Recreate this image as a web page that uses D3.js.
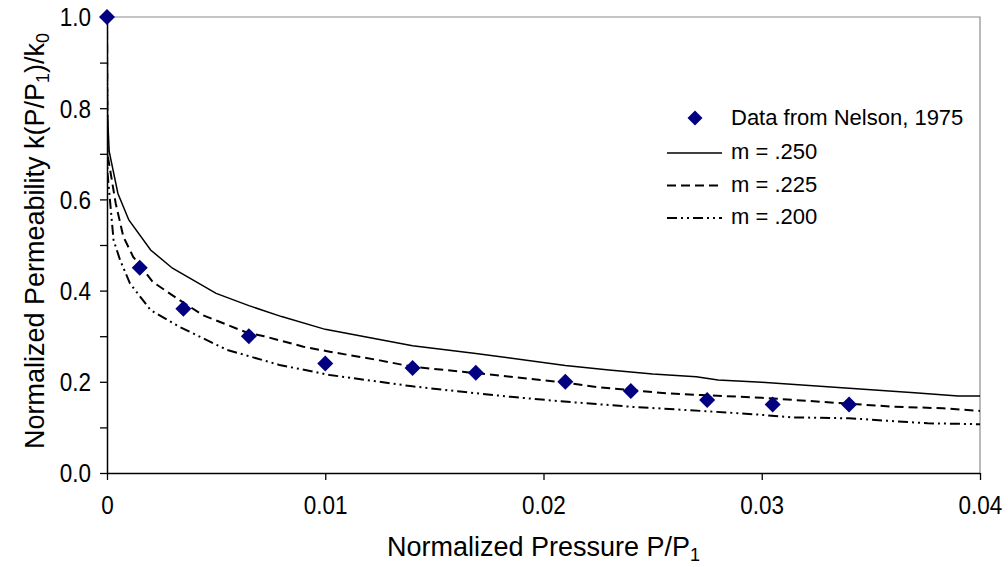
<!DOCTYPE html>
<html><head><meta charset="utf-8">
<script src="https://cdn.jsdelivr.net/npm/d3@7"></script>
<style>
html,body{margin:0;padding:0;background:#fff;}
svg{display:block;font-family:"Liberation Sans",Arial,sans-serif;}
</style></head>
<body>
<svg id="chart" width="1008" height="567"></svg>
<script>
// Measured data (Nelson, 1975)
const dataX = [0, 0.0015, 0.0035, 0.0065, 0.01, 0.014, 0.0169, 0.021, 0.024, 0.0275, 0.0305, 0.034];
const dataY = [1.0, 0.45, 0.36, 0.30, 0.24, 0.23, 0.22, 0.20, 0.18, 0.16, 0.15, 0.15];

// Model curves
const m250X = [0, 0.00002, 0.0001, 0.0005, 0.001, 0.002, 0.003, 0.005, 0.0065, 0.008, 0.01, 0.014, 0.0169, 0.021, 0.023, 0.025, 0.027, 0.028, 0.03, 0.037, 0.039, 0.04];
const m250Y = [1.0, 0.79, 0.705, 0.613, 0.555, 0.489, 0.449, 0.394, 0.367, 0.343, 0.315, 0.279, 0.262, 0.236, 0.226, 0.217, 0.211, 0.204, 0.199, 0.176, 0.169, 0.169];

const m225X = [0, 0.00002, 0.0004, 0.00075, 0.0012, 0.0021, 0.0032, 0.0044, 0.0064, 0.0072, 0.009, 0.0102, 0.0125, 0.014, 0.0163, 0.0185, 0.021, 0.0225, 0.0256, 0.0272, 0.03, 0.036, 0.0383, 0.04];
const m225Y = [1.0, 0.70, 0.591, 0.518, 0.474, 0.419, 0.383, 0.346, 0.308, 0.30, 0.277, 0.266, 0.247, 0.233, 0.222, 0.211, 0.198, 0.188, 0.175, 0.171, 0.165, 0.1455, 0.142, 0.136];

const m200X = [0, 0.00002, 0.0003, 0.0006, 0.00105, 0.002, 0.0033, 0.0055, 0.0079, 0.0102, 0.014, 0.0163, 0.0185, 0.0211, 0.0241, 0.0266, 0.0296, 0.0314, 0.034, 0.0376, 0.04];
const m200Y = [1.0, 0.66, 0.511, 0.467, 0.416, 0.357, 0.321, 0.27, 0.237, 0.215, 0.19, 0.178, 0.167, 0.156, 0.145, 0.138, 0.129, 0.122, 0.12, 0.109, 0.107];

const xTicks = [0, 0.01, 0.02, 0.03, 0.04];
const xTickLabels = ["0", "0.01", "0.02", "0.03", "0.04"];
const yTicks = [0, 0.1, 0.2, 0.3, 0.4, 0.5, 0.6, 0.7, 0.8, 0.9, 1.0];
const yTickLabels = ["0.0", "", "0.2", "", "0.4", "", "0.6", "", "0.8", "", "1.0"];

const seriesNames = ["Data from Nelson, 1975", "m = .250", "m = .225", "m = .200"];

const svg = d3.select("#chart");
const L = 107, R = 980, T = 17, B = 473;
const x = d3.scaleLinear().domain([0, 0.04]).range([L, R]);
const y = d3.scaleLinear().domain([0, 1]).range([B, T]);

// plot border (top/right gray)
svg.append("path")
  .attr("d", `M${L},${T}H${R}V${B}`)
  .attr("fill", "none").attr("stroke", "#8c8c8c").attr("stroke-width", 1.2);

// axes
const xAxis = d3.axisBottom(x).tickValues(xTicks).tickSize(7).tickFormat((d, i) => xTickLabels[i]);
const gx = svg.append("g").attr("transform", `translate(0,${B})`).call(xAxis);
const yAxis = d3.axisLeft(y).tickValues(yTicks).tickSize(7).tickFormat((d, i) => yTickLabels[i]);
const gy = svg.append("g").attr("transform", `translate(${L},0)`).call(yAxis);

const sy = 1.14;
[gx, gy].forEach(g => {
  g.select(".domain").attr("stroke", "#000").attr("stroke-width", 1.5);
  g.selectAll(".tick line").attr("stroke", "#000").attr("stroke-width", 1.3);
  g.selectAll(".tick text").attr("fill", "#000").attr("font-size", 22.5)
    .attr("font-family", '"Liberation Sans",Arial,sans-serif')
    .attr("transform", `scale(1,${sy})`);
});
gx.select(".domain").attr("d", `M${L},0.5H${R}`);
gy.select(".domain").attr("d", `M0.5,${B}V${T}`);
gx.selectAll(".tick text").attr("dy", null).attr("y", 41 / sy);
gy.selectAll(".tick text").attr("x", -16).attr("dy", "0.35em");

// lines
const line = d3.line().x(d => x(d[0])).y(d => y(d[1]));
const curves = [
  {xs: m250X, ys: m250Y, dash: null, w: 1.5},
  {xs: m225X, ys: m225Y, dash: "9,5", w: 2},
  {xs: m200X, ys: m200Y, dash: "10,4,2,4,2,4", w: 2}
];
svg.append("clipPath").attr("id", "clip").append("rect")
  .attr("x", L).attr("y", T - 2).attr("width", R - L).attr("height", B - T + 2);
curves.forEach(c => {
  svg.append("path")
    .datum(c.xs.map((v, i) => [v, c.ys[i]]))
    .attr("d", line)
    .attr("fill", "none").attr("stroke", "#000")
    .attr("stroke-width", c.w)
    .attr("stroke-dasharray", c.dash)
    .attr("clip-path", "url(#clip)");
});

// diamonds
const dia = s => `M0,${-s}L${s},0L0,${s}L${-s},0Z`;
svg.append("g").selectAll("path").data(dataX.map((v, i) => [v, dataY[i]])).join("path")
  .attr("d", dia(8))
  .attr("transform", d => `translate(${x(d[0])},${y(d[1])})`)
  .attr("fill", "#000080");

// legend
const lg = svg.append("g");
const lx0 = 667, lx1 = 722, tx = 731;
const rows = [125, 159, 191.5, 224];
lg.append("path").attr("d", dia(7.5)).attr("transform", `translate(695,${rows[0] - 7})`).attr("fill", "#000080");
curves.forEach((c, i) => {
  lg.append("line").attr("x1", lx0).attr("x2", lx1)
    .attr("y1", rows[i + 1] - 6).attr("y2", rows[i + 1] - 6)
    .attr("stroke", "#000").attr("stroke-width", c.w)
    .attr("stroke-dasharray", c.dash);
});
seriesNames.forEach((n, i) => {
  lg.append("text").attr("x", tx).attr("y", rows[i]).attr("font-size", 22).text(n);
});

// axis titles
const xt = svg.append("text").attr("x", (L + R) / 2).attr("y", 556)
  .attr("text-anchor", "middle").attr("font-size", 27);
xt.append("tspan").text("Normalized Pressure P/P");
xt.append("tspan").attr("font-size", 18).attr("dy", 5).text("1");

const yt = svg.append("text").attr("transform", `translate(44,${(T + B) / 2 - 4}) rotate(-90)`)
  .attr("text-anchor", "middle").attr("font-size", 27);
yt.append("tspan").text("Normalized Permeability k(P/P");
yt.append("tspan").attr("font-size", 18).attr("dy", 5).text("1");
yt.append("tspan").attr("dy", -5).text(")/k");
yt.append("tspan").attr("font-size", 18).attr("dy", 5).text("0");
</script>
</body></html>
